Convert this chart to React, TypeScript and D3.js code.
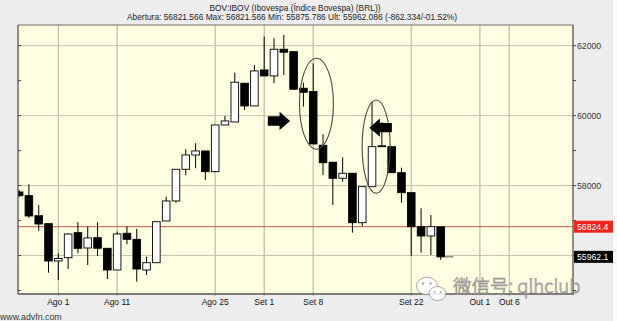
import React from 'react';
import * as d3 from 'd3';

const W = 617;
const H = 321;

const titleText = 'BOV:IBOV (Ibovespa (Índice Bovespa) (BRL))';
const subtitleText = 'Abertura: 56821.566 Max: 56821.566 Min: 55875.786 Ult: 55962.086 (-862.334/-01.52%)';

// all trading days on the axis (Jul 28 .. Oct 6, 2014)
const tradingDays = [
  '2014-07-28', '2014-07-29', '2014-07-30', '2014-07-31', '2014-08-01',
  '2014-08-04', '2014-08-05', '2014-08-06', '2014-08-07', '2014-08-08',
  '2014-08-11', '2014-08-12', '2014-08-13', '2014-08-14', '2014-08-15',
  '2014-08-18', '2014-08-19', '2014-08-20', '2014-08-21', '2014-08-22',
  '2014-08-25', '2014-08-26', '2014-08-27', '2014-08-28', '2014-08-29',
  '2014-09-01', '2014-09-02', '2014-09-03', '2014-09-04', '2014-09-05',
  '2014-09-08', '2014-09-09', '2014-09-10', '2014-09-11', '2014-09-12',
  '2014-09-15', '2014-09-16', '2014-09-17', '2014-09-18', '2014-09-19',
  '2014-09-22', '2014-09-23', '2014-09-24', '2014-09-25', '2014-09-26',
  '2014-09-29', '2014-09-30', '2014-10-01', '2014-10-02', '2014-10-03',
  '2014-10-06',
];

const candleDates = tradingDays.slice(0, 44);

const openVals = [
  57817, 57711, 57139, 56911, 55844, 55938, 56653, 56216, 56510, 56207,
  55586, 56636, 56464, 55586, 55795, 56988, 57560, 58466, 58875, 58990,
  58398, 59733, 59819, 60926, 60277, 61306, 61135, 61898, 61830, 60783,
  60691, 59153, 58667, 58209, 58352, 56939, 57969, 59113, 59113, 58369,
  57797, 56825, 56559, 56821.566,
];
const highVals = [
  57874, 58037, 57445, 56911, 56064, 56640, 56951, 56825, 56951, 56207,
  56682, 56845, 56759, 55967, 56968, 57683, 58466, 59038, 59210, 58990,
  59733, 59991, 61229, 60926, 61449, 62259, 62213, 62307, 61830, 60943,
  61498, 59467, 58667, 58810, 58352, 57969, 60400, 59819, 59113, 58512,
  57797, 57351, 57159, 56821.566,
];
const lowVals = [
  57674, 57074, 56710, 55509, 55300, 55615, 56064, 55729, 55987, 55329,
  55586, 56321, 55252, 55443, 55795, 56988, 57511, 58303, 58495, 58160,
  58398, 59733, 59819, 60162, 60277, 61135, 60926, 61163, 60754, 60257,
  59190, 58303, 57445, 58112, 56653, 56845, 57969, 59113, 58369, 57511,
  55987, 56081, 56015, 55875.786,
];
const closeVals = [
  57711, 57131, 56902, 55844, 55915, 56616, 56207, 56502, 56207, 55586,
  56616, 56464, 55615, 55795, 56968, 57560, 58466, 58875, 58990, 58398,
  59733, 59848, 60955, 60277, 61278, 61135, 61898, 61813, 60754, 60668,
  59190, 58655, 58209, 58352, 56939, 57969, 59113, 59140, 58369, 57797,
  56825, 56559, 56825, 55962.086,
];

const tickDates = ['2014-08-01', '2014-08-11', '2014-08-25', '2014-09-01', '2014-09-08', '2014-09-22', '2014-10-01', '2014-10-06'];
const tickLabels = ['Ago 1', 'Ago 11', 'Ago 25', 'Set 1', 'Set 8', 'Set 22', 'Out 1', 'Out 6'];

const gridPrices = [56000, 58000, 60000, 62000];
const minorPrices = [55000, 57000, 59000, 61000];
const labelPrices = [58000, 60000, 62000];

const refLevel = 56824.4;
const lastLevel = 55962.1;

// annotations, in (trading-day index, price) units
const ellipseCx = [30.33, 36.42];
const ellipseCy = [60340, 59113];
const ellipseXHalf = [1.73, 1.43];
const ellipseYHalf = [1300, 1334];

const arrowTail = [25.37, 38.02];
const arrowTip = [27.64, 35.73];
const arrowPrice = [59848, 59657];

export default function App() {
  const left = 18, right = 573, top = 25, bottom = 294;

  const x = d3.scalePoint<string>().domain(tradingDays).range([19.1, 509.3]);
  const step = x.step();
  const xAt = (i: number) => (x(tradingDays[0]) as number) + i * step;
  const y = d3.scaleLinear().domain([54900, 62600]).range([294, 24.7]);

  const bw = 7.6;

  const candles = candleDates.map((d, i) => {
    const cx = x(d) as number;
    const o = openVals[i], c = closeVals[i], h = highVals[i], l = lowVals[i];
    const up = c >= o;
    const yt = y(Math.max(o, c));
    const yb = y(Math.min(o, c));
    const bh = Math.max(1, yb - yt);
    return (
      <g key={d}>
        <line x1={cx} x2={cx} y1={y(h)} y2={y(l)} stroke="#000" strokeWidth={1} />
        <rect x={cx - bw / 2} y={yt} width={bw} height={bh}
          fill={up ? '#fff' : '#000'} stroke="#000" strokeWidth={0.9} />
      </g>
    );
  });

  const lastX = x(candleDates[candleDates.length - 1]) as number;

  const arrowPath = (i: number) => {
    const tail = xAt(arrowTail[i]);
    const tip = xAt(arrowTip[i]);
    const cy = y(arrowPrice[i]);
    const dir = tip > tail ? 1 : -1;
    const headLen = 10.5;
    const neck = tip - dir * headLen;
    const bh = 4.7, hh = 9.1;
    return `M${tail},${cy - bh} L${neck},${cy - bh} L${neck},${cy - hh} L${tip},${cy} L${neck},${cy + hh} L${neck},${cy + bh} L${tail},${cy + bh} Z`;
  };

  const font = '"Liberation Sans", Arial, sans-serif';

  return (
    <svg width={W} height={H} viewBox={`0 0 ${W} ${H}`}
      style={{ position: 'absolute', left: 0, top: 0, display: 'block' }}>
      <defs>
        <clipPath id="plotclip">
          <rect x={left} y={top} width={right - left} height={bottom - top} />
        </clipPath>
      </defs>
      <rect x={0} y={0} width={W} height={H} fill="#ededed" />
      <rect x={613} y={0} width={4} height={H} fill="#fafafa" />

      <text x={295} y={10.6} textAnchor="middle" fontFamily={font} fontSize={8.4} fill="#222">{titleText}</text>
      <text x={292} y={19.6} textAnchor="middle" fontFamily={font} fontSize={8.4} fill="#222">{subtitleText}</text>

      <rect x={left} y={top} width={right - left} height={bottom - top} fill="#fefee1" />

      {/* grid */}
      {gridPrices.map(p => (
        <line key={'h' + p} x1={left} x2={right} y1={y(p)} y2={y(p)} stroke="#c6c3b0" strokeWidth={1} />
      ))}
      {tickDates.map(d => (
        <line key={'v' + d} x1={x(d)} x2={x(d)} y1={top} y2={bottom + 2} stroke="#bfbca8" strokeWidth={1.2} />
      ))}

      {/* reference line */}
      <line x1={left} x2={right} y1={y(refLevel)} y2={y(refLevel)} stroke="#c2584a" strokeWidth={1} />

      <g clipPath="url(#plotclip)">
        {candles}
        <line x1={lastX + bw / 2} x2={lastX + bw / 2 + 9} y1={y(lastLevel)} y2={y(lastLevel)} stroke="#555" strokeWidth={1} />
        {ellipseCx.map((c, i) => {
          const cx = xAt(c);
          const cy = y(ellipseCy[i]);
          const rx = ellipseXHalf[i] * step;
          const ry = y(ellipseCy[i] - ellipseYHalf[i]) - cy;
          return <ellipse key={'e' + i} cx={cx} cy={cy} rx={rx} ry={ry} fill="none" stroke="#4a4a40" strokeWidth={1.1} />;
        })}
        {arrowTail.map((_, i) => (
          <path key={'a' + i} d={arrowPath(i)} fill="#000" />
        ))}
      </g>

      {/* axes frame */}
      <line x1={left} x2={right} y1={top} y2={top} stroke="#6a6a6a" strokeWidth={1} />
      <line x1={left} x2={left} y1={top} y2={bottom} stroke="#444" strokeWidth={1.2} />
      <line x1={right} x2={right} y1={top} y2={bottom} stroke="#444" strokeWidth={1.2} />
      <line x1={left} x2={right + 1} y1={bottom} y2={bottom} stroke="#555" strokeWidth={1.5} />

      {[...gridPrices, ...minorPrices].map(p => (
        <g key={'t' + p}>
          <line x1={left} x2={left + 3} y1={y(p)} y2={y(p)} stroke="#444" strokeWidth={1} />
          <line x1={right} x2={right + 3} y1={y(p)} y2={y(p)} stroke="#444" strokeWidth={1} />
        </g>
      ))}

      {labelPrices.map(p => (
        <text key={'l' + p} x={577} y={y(p)} dy="0.35em" fontFamily={font} fontSize={8.7} fill="#333">{p}</text>
      ))}

      {/* price boxes */}
      <rect x={574} y={y(refLevel) - 6} width={39} height={12} fill="#f0241c" />
      <text x={577} y={y(refLevel)} dy="0.35em" fontFamily={font} fontSize={8.7} fill="#fff">{refLevel.toFixed(1)}</text>
      <rect x={574} y={y(lastLevel) - 6} width={39} height={12} fill="#000" />
      <text x={577} y={y(lastLevel)} dy="0.35em" fontFamily={font} fontSize={8.7} fill="#fff">{lastLevel.toFixed(1)}</text>

      {tickDates.map((d, i) => (
        <text key={'x' + d} x={x(d)} y={305} textAnchor="middle" fontFamily={font} fontSize={8.5} fill="#111">{tickLabels[i]}</text>
      ))}

      <text x={0} y={319.5} fontFamily={font} fontSize={8.8} fill="#333">www.advfn.com</text>

      {/* watermark */}
      <g opacity={0.85}>
        <ellipse cx={427} cy={286} rx={10.5} ry={8.8} fill="#fff" stroke="#9a9a9a" strokeWidth={1} />
        <ellipse cx={437.5} cy={293.5} rx={8.5} ry={7} fill="#fff" stroke="#9a9a9a" strokeWidth={1} />
        <circle cx={423} cy={283.5} r={1.2} fill="#9a9a9a" />
        <circle cx={430.5} cy={283.5} r={1.2} fill="#9a9a9a" />
        <circle cx={434.5} cy={292} r={1} fill="#9a9a9a" />
        <circle cx={440.5} cy={292} r={1} fill="#9a9a9a" />
        <text x={453} y={292.5} fontFamily='"Noto Sans CJK SC", "Noto Sans", sans-serif' fontSize={18.5}
          fontWeight={300} fill="#fff" stroke="#8c8c8c" strokeWidth={0.8}>微信号: qlhclub</text>
      </g>
    </svg>
  );
}
